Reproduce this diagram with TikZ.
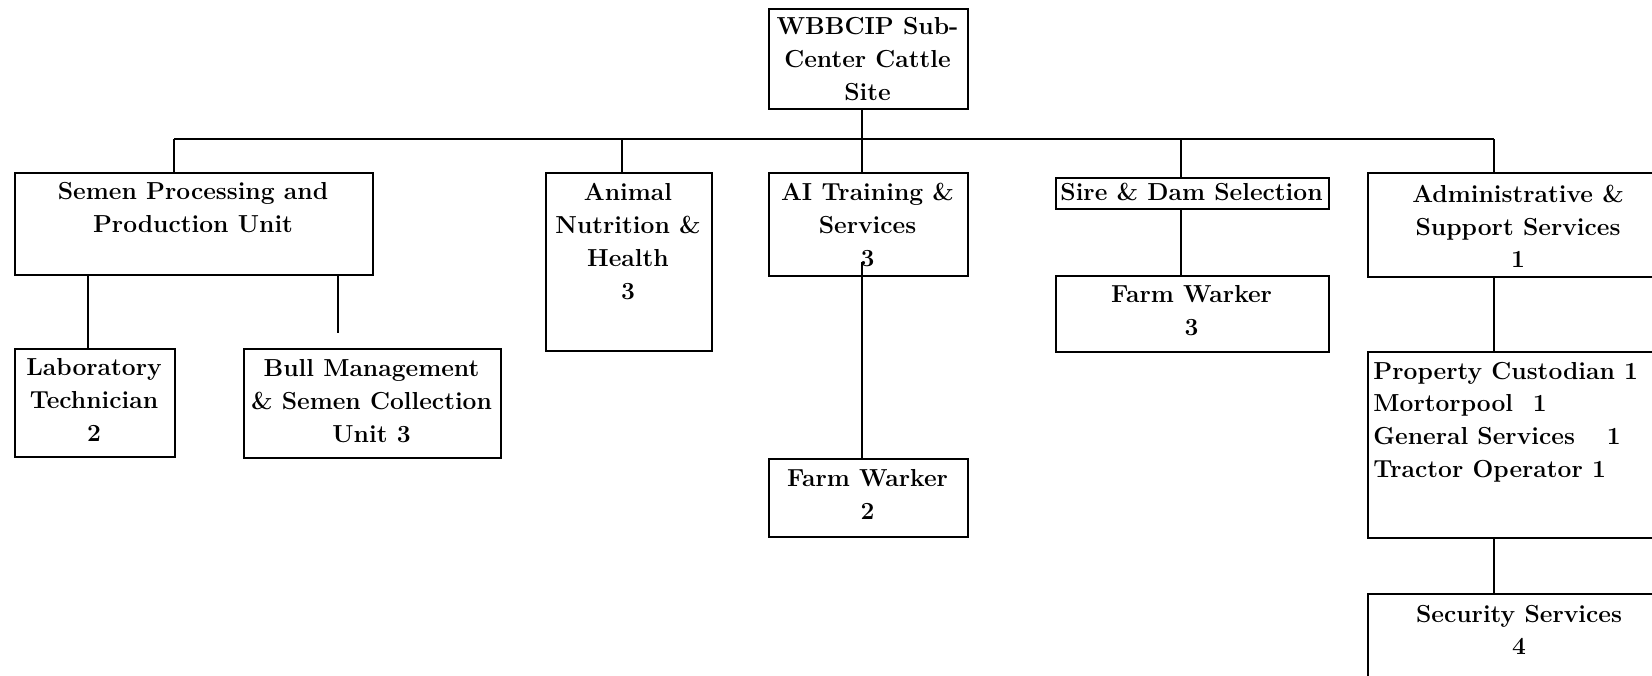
\documentclass[tikz,border=0pt]{standalone}
\usepackage{fontspec}
\begin{document}
\begin{tikzpicture}[x=0.5pt,y=-0.5pt,
  box/.style={draw,line width=1.2pt,inner sep=0pt,anchor=north west,rectangle},
  lbl/.style={font=\fontsize{12.3}{16.4}\selectfont\bfseries,align=center,inner sep=0pt,anchor=north},
  conn/.style={line width=1pt}]
\useasboundingbox (0,0) rectangle (1652,675);
\clip (0,0) rectangle (1652,675);
% boxes
\node[box,minimum width=99.5pt,minimum height=50pt] (top) at (768,8) {};
\node[box,minimum width=179pt,minimum height=51pt] (semen) at (14,172) {};
\node[box,minimum width=80pt,minimum height=54pt] (lab) at (14,348) {};
\node[box,minimum width=128.5pt,minimum height=54.5pt] (bull) at (243,348) {};
\node[box,minimum width=83pt,minimum height=89pt] (animal) at (545,172) {};
\node[box,minimum width=99.5pt,minimum height=51.5pt] (ai) at (768,172) {};
\node[box,minimum width=99.5pt,minimum height=39pt] (fw2) at (768,458) {};
\node[box,minimum width=136.5pt,minimum height=15.5pt] (sire) at (1055,177) {};
\node[box,minimum width=136.5pt,minimum height=38pt] (fw3) at (1055,275) {};
\node[box,minimum width=151pt,minimum height=52pt] (admin) at (1367,172) {};
\node[box,minimum width=151pt,minimum height=93pt] (prop) at (1367,351) {};
\node[box,minimum width=152pt,minimum height=50pt] (sec) at (1367,593) {};
% texts
\node[lbl] (tTop) at (867.5,17) {WBBCIP Sub-\\Center Cattle\\Site};
\node[lbl] (tSemen) at (193,182) {Semen Processing and\\Production Unit};
\node[lbl] (tLab) at (94,358) {Laboratory\\Technician\\2};
\node[lbl] (tBull) at (371.5,359) {Bull Management\\\& Semen Collection\\Unit 3};
\node[lbl] (tAnimal) at (628,183) {Animal\\Nutrition \&\\Health\\3};
\node[lbl] (tAi) at (867.5,183) {AI Training \&\\Services\\3};
\node[lbl] (tFw2) at (867.5,469) {Farm Warker\\2};
\node[lbl] (tSire) at (1191.5,183) {Sire \& Dam Selection};
\node[lbl] (tFw3) at (1191.5,285.5) {Farm Warker\\3};
\node[lbl] (tAdmin) at (1518,184.5) {Administrative \&\\Support Services\\1};
\node[lbl,anchor=north west,align=left] (tProp) at (1373,361.5) {Property Custodian 1\\Mortorpool\hspace{0.8em}1\\General Services\hspace{1.3em}1\\Tractor Operator 1};
\node[lbl] (tSec) at (1519,604.5) {Security Services\\4};
% connectors
\coordinate (bL) at (174,139);
\coordinate (bR) at (1494,139);
\coordinate (bA) at (622,139);
\coordinate (bT) at (862,139);
\coordinate (bS) at (1181,139);
\coordinate (xL) at (88,300);
\coordinate (bullEnd) at (338,333);
\coordinate (aiStart) at (862,262);
\draw[conn] (bL) -- (bR);
\draw[conn] (bL) -- (bL |- semen.north);
\draw[conn] (bA) -- (bA |- animal.north);
\draw[conn] (bT |- top.south) -- (bT |- ai.north);
\draw[conn] (bS) -- (bS |- sire.north);
\draw[conn] (bS |- sire.south) -- (bS |- fw3.north);
\draw[conn] (bR) -- (bR |- admin.north);
\draw[conn] (bR |- admin.south) -- (bR |- prop.north);
\draw[conn] (bR |- prop.south) -- (bR |- sec.north);
\draw[conn] (xL |- semen.south) -- (xL |- lab.north);
\draw[conn] (bullEnd |- semen.south) -- (bullEnd);
\draw[conn] (aiStart) -- (aiStart |- fw2.north);
\end{tikzpicture}
\end{document}
